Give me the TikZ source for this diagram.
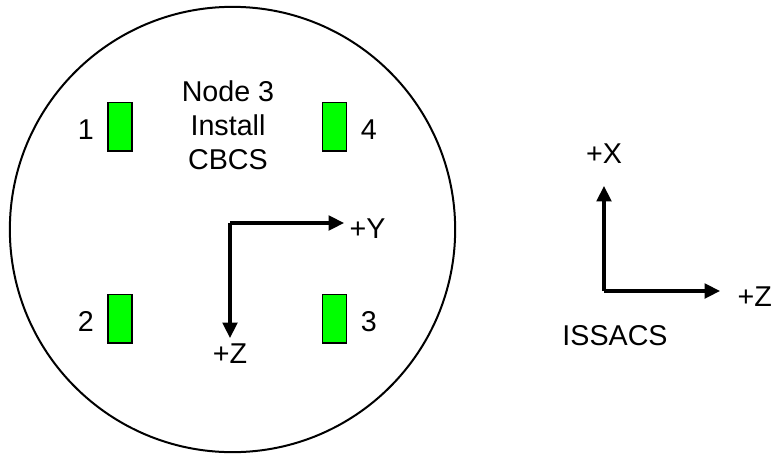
\documentclass[tikz,border=0pt]{standalone}
\usepackage{fontspec}
\setmainfont{Liberation Sans}
\usepackage{xcolor}
\usetikzlibrary{arrows.meta,positioning}
\definecolor{padgreen}{HTML}{00FF00}

\begin{document}
\begin{tikzpicture}[
  x=0.75pt, y=-0.75pt,
  font=\fontsize{21.5}{25.5}\selectfont,
  pad/.style={draw, line width=1pt, fill=padgreen, minimum width=18pt, minimum height=36.5pt, inner sep=0pt},
  axis/.style={-{Triangle[length=11.5pt, width=11pt]}, line width=2.3pt},
  lbl/.style={inner sep=0pt, align=center}
]
\useasboundingbox (0,0) rectangle (778,458);
\node[draw, circle, line width=1.5pt, minimum size=334pt, inner sep=0pt] (hatch) at (232.5,229.5) {};

\node[lbl] (title) at (228,125) {Node 3\\Install\\CBCS};

\node[pad] (pad1) at (120,126.5) {};
\node[pad] (pad4) at (334.5,126.5) {};
\node[pad] (pad2) at (120,318.5) {};
\node[pad] (pad3) at (334.5,318.5) {};
\node[lbl, left=10pt of pad1, yshift=-2pt] (num1) {1};
\node[lbl, right=10pt of pad4, yshift=-2pt] (num4) {4};
\node[lbl, left=10pt of pad2, yshift=-2pt] (num2) {2};
\node[lbl, right=10pt of pad3, yshift=-2pt] (num3) {3};

% CBCS axes
\coordinate (cbcs) at (230,223);
\coordinate (cbcsy) at (344,223);
\coordinate (cbcsz) at (230,338);
\draw[axis] (cbcsz |- cbcs) -- (cbcsy);
\draw[axis] (cbcs) -- (cbcsz);
\node[lbl, right=4pt of cbcsy, yshift=-4pt] (ylbl) {+Y};
\node[lbl, below=4pt of cbcsz] (zlbl) {+Z};

% ISSACS axes
\coordinate (iss) at (604,291);
\coordinate (issx) at (604,186);
\coordinate (issz) at (720,291);
\draw[axis] (iss) -- (issx);
\draw[axis] (issx |- iss) -- (issz);
\node[lbl, above=17pt of issx] (xlbl) {+X};
\node[lbl, right=13pt of issz, yshift=-4pt] (izlbl) {+Z};
\node[lbl] (isslbl) at (615,336) {ISSACS};
\end{tikzpicture}
\end{document}
